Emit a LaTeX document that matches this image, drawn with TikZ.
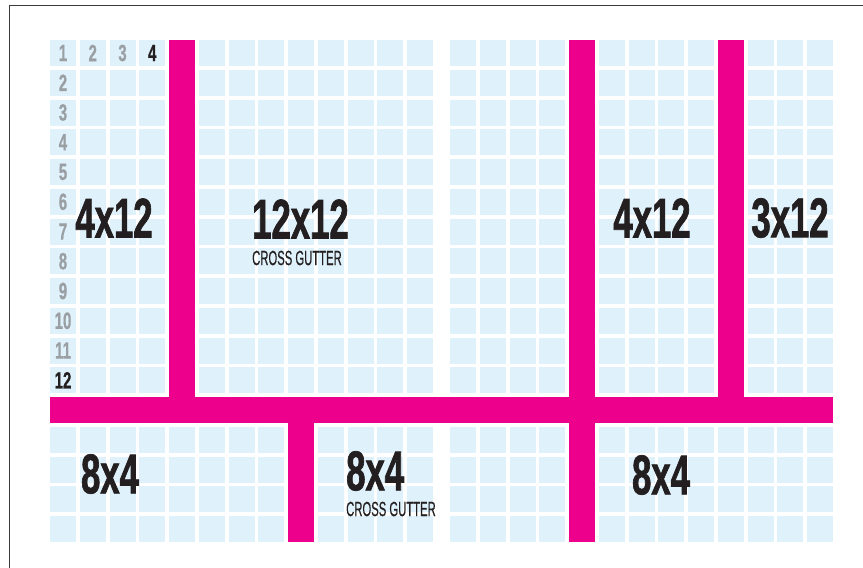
\documentclass[tikz,border=0pt]{standalone}
\usepackage{fontspec}
\newfontfamily\bigfont[FakeStretch=0.62,FakeBold=1.2]{Liberation Sans}
\newfontfamily\numfont[FakeStretch=0.64,FakeBold=0.6]{Liberation Sans}
\newfontfamily\smallfont[FakeStretch=0.55,FakeBold=0.4]{Liberation Sans}
\definecolor{cellc}{HTML}{DFF1FA}
\definecolor{magc}{HTML}{EC008C}
\definecolor{grayc}{HTML}{9A9FA4}
\definecolor{inkc}{HTML}{231F20}
\definecolor{framec}{HTML}{3A3A3A}
\tikzset{
  cellbox/.style={fill=cellc},
  magbar/.style={fill=magc},
  numlab/.style={inner sep=0pt, text=grayc, font=\numfont\bfseries\fontsize{23.5}{23.5}\selectfont},
  numdark/.style={numlab, text=inkc},
  biglab/.style={inner sep=0pt, text=inkc, font=\bigfont\bfseries\fontsize{56}{56}\selectfont},
  sublab/.style={inner sep=0pt, text=inkc, font=\smallfont\fontsize{20.5}{20.5}\selectfont},
}
\begin{document}
\begin{tikzpicture}[x=1pt,y=-1pt]
\useasboundingbox (0,0) rectangle (863,568);
\fill[white] (0,0) rectangle (863,568);
\draw[framec, line width=1.4pt] (9.5,568) -- (9.5,5.7) -- (863,5.7);
% grid cells, two pages of 13 columns x 17 rows
\foreach \pg in {0,400}
  \foreach \i in {0,...,12}
    \foreach \j in {0,...,16}
      \fill[cellbox] ({50+\pg+\i*29.75},{40+\j*29.75}) rectangle ++(26,26);
% magenta gutters
\fill[magbar] (50,397) rectangle (833,423);
\fill[magbar] (169,40) rectangle (195,423);
\fill[magbar] (288,397) rectangle (314,542);
\fill[magbar] (569,40) rectangle (595,542);
\fill[magbar] (717.75,40) rectangle (743.75,423);
% row numbers
\foreach \j in {1,...,11}
  \node[numlab] (r\j) at (63,{53+(\j-1)*29.75}) {\j};
\node[numdark] (r12) at (63,{53+11*29.75}) {12};
% column numbers
\node[numlab] (c2) at (92.75,53) {2};
\node[numlab] (c3) at (122.5,53) {3};
\node[numdark] (c4) at (152.25,53) {4};
% big labels
\node[biglab] (a) at (114,218) {4x12};
\node[biglab, anchor=west] (b) at (252,219) {12x12};
\node[sublab, anchor=west] (bs) at (252,258) {CROSS GUTTER};
\node[biglab] (c) at (652,218) {4x12};
\node[biglab] (d) at (790,218) {3x12};
\node[biglab] (e) at (110,474) {8x4};
\node[biglab, anchor=west] (f) at (346,471) {8x4};
\node[sublab, anchor=west] (fs) at (346,509) {CROSS GUTTER};
\node[biglab] (g) at (661,475) {8x4};
\end{tikzpicture}
\end{document}
